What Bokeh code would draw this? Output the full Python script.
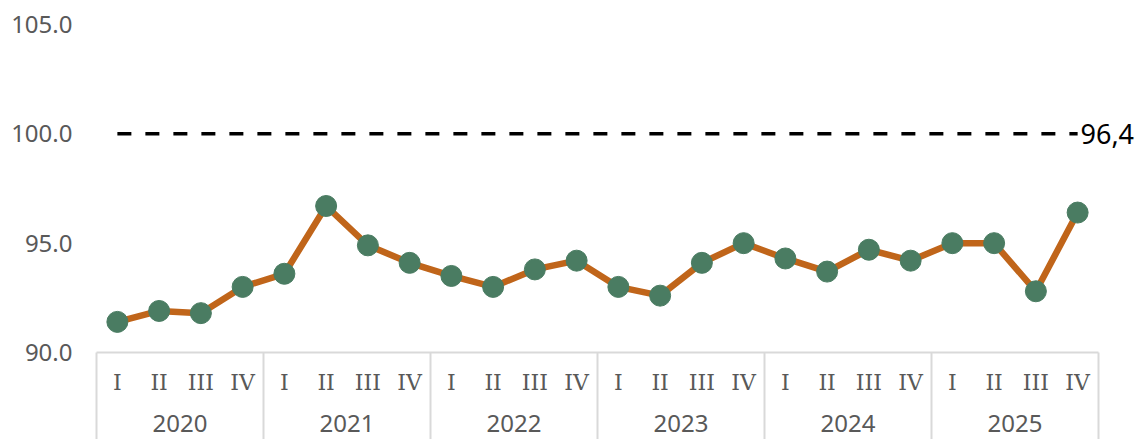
from bokeh.plotting import figure
from bokeh.models import FactorRange, Range1d, FixedTicker, PrintfTickFormatter, LinearAxis
from bokeh.embed import file_html
from bokeh.resources import INLINE

years = ["2020", "2021", "2022", "2023", "2024", "2025"]
quarters = ["I", "II", "III", "IV"]
values = [91.4, 91.9, 91.8, 93.0,
          93.6, 96.7, 94.9, 94.1,
          93.5, 93.0, 93.8, 94.2,
          93.0, 92.6, 94.1, 95.0,
          94.3, 93.7, 94.7, 94.2,
          95.0, 95.0, 92.8, 96.4]
reference = 100.0
y_min, y_max = 90, 105
y_ticks = [90, 95, 100, 105]

factors = [(y, q) for y in years for q in quarters]
ref_values = [reference] * len(factors)
last_label = f"{values[-1]:.1f}".replace(".", ",")

GREY = "#595959"
RULE = "#D9D9D9"

p = figure(x_range=FactorRange(*factors, group_padding=0, range_padding=0, factor_padding=0),
           y_range=Range1d(y_min, y_max),
           frame_width=1002, frame_height=328,
           min_border_left=96, min_border_top=24, min_border_right=42, min_border_bottom=87,
           output_backend="svg", toolbar_location=None)
p.outline_line_color = None
p.xgrid.visible = False
p.ygrid.visible = False

p.line(factors, ref_values, line_color="black", line_width=3.5, line_dash="14 14")
p.line(factors, values, line_color="#C0651A", line_width=6.5)
p.scatter(factors, values, size=21, fill_color="#4A7C62", line_color="#4A7C62")

# y axis
yax = p.yaxis[0]
yax.ticker = FixedTicker(ticks=y_ticks)
yax.formatter = PrintfTickFormatter(format="%.1f")
yax.axis_line_color = None
yax.major_tick_line_color = None
yax.minor_tick_line_color = None
yax.major_tick_out = 0
yax.major_label_standoff = 24
yax.major_label_text_font = "Noto Sans"
yax.major_label_text_font_size = "24px"
yax.major_label_text_color = GREY

# quarter + year labels (nested categorical axis)
xax = p.xaxis[0]
xax.axis_line_color = None
xax.major_tick_line_color = None
xax.major_tick_out = 0
xax.major_label_standoff = 17
xax.major_label_text_font = "DejaVu Serif"
xax.major_label_text_font_size = "22px"
xax.major_label_text_color = GREY
xax.group_text_font = "Noto Sans"
xax.group_text_font_size = "24px"
xax.group_text_font_style = "normal"
xax.group_text_color = GREY
xax.separator_line_color = None

# box lines of the category table: boundaries between year groups
# (synthetic positions on the factor range: group i spans 4i .. 4i+4)
bounds = [i * len(quarters) for i in range(len(years) + 1)]
gax = LinearAxis(ticker=FixedTicker(ticks=bounds),
                 major_label_overrides={b: "" for b in bounds},
                 axis_line_color=RULE, axis_line_width=2,
                 major_tick_line_color=RULE, major_tick_line_width=2,
                 major_tick_in=-90, major_tick_out=0,
                 minor_tick_line_color=None,
                 major_label_text_font_size="1px", major_label_standoff=0)
p.add_layout(gax, "below")
p.below = [gax, xax]

# value label of the last point, drawn as a right-side axis label at the reference level
lax = LinearAxis(ticker=FixedTicker(ticks=[reference]),
                 major_label_overrides={reference: last_label},
                 axis_line_color=None, major_tick_line_color=None, minor_tick_line_color=None,
                 major_tick_out=0, major_label_standoff=-18,
                 major_label_text_font="Noto Sans", major_label_text_font_size="27px",
                 major_label_text_color="black")
p.add_layout(lax, "right")

open("out.html", "w").write(file_html(p, INLINE))
